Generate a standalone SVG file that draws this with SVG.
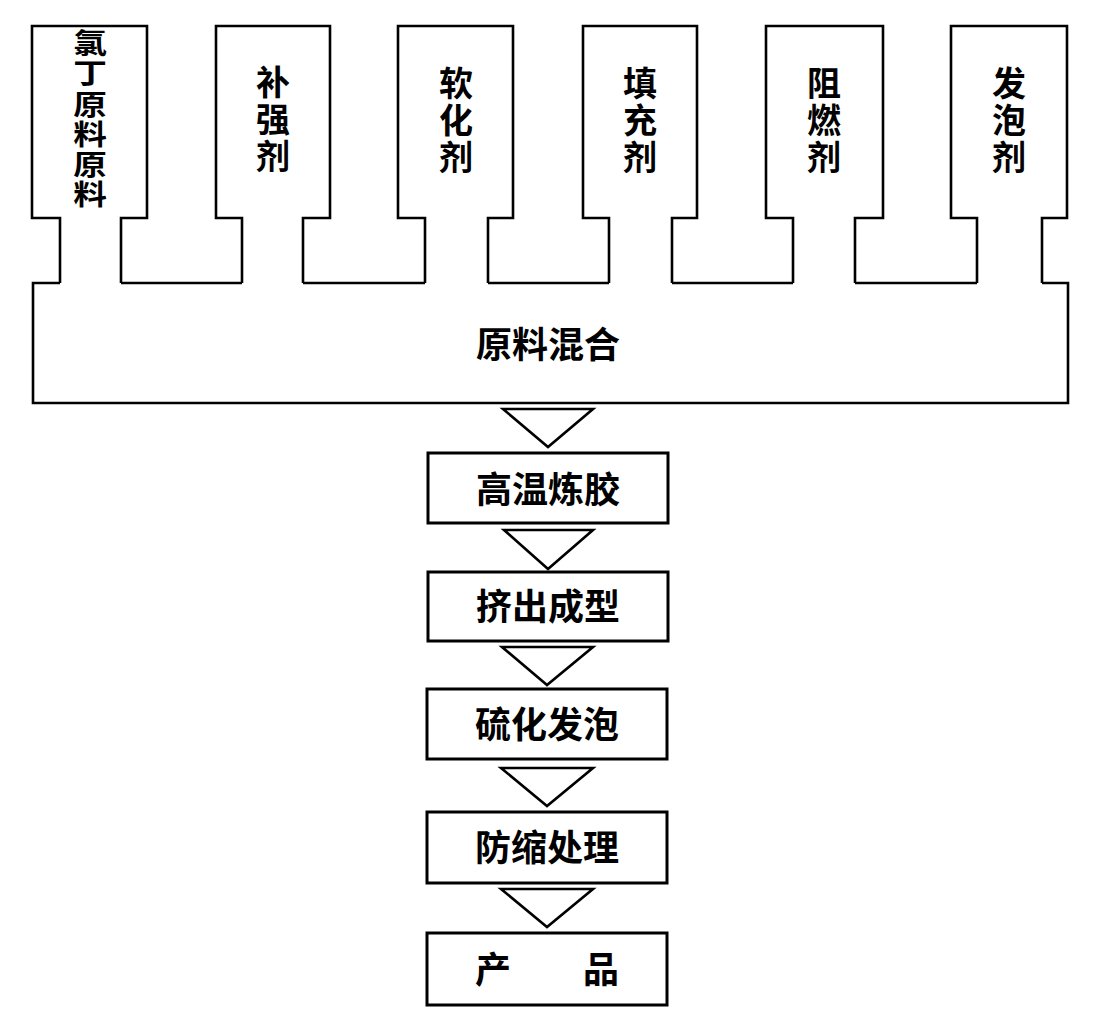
<svg xmlns="http://www.w3.org/2000/svg" width="1108" height="1022" viewBox="0 0 1108 1022">
<style>
.ln{fill:none;stroke:#000;stroke-width:2.6;stroke-linejoin:miter}
.bx{fill:#fff;stroke:#000;stroke-width:3}
.tri{fill:#fff;stroke:#000;stroke-width:2.6;stroke-linejoin:miter}
.t{font-family:"Noto Sans CJK SC","Noto Sans CJK JP",sans-serif;font-weight:700;fill:#000;text-anchor:middle}
.v{font-size:34px}
.v1{font-size:28px}
.h{font-size:36px}
</style>
<rect width="1108" height="1022" fill="#fff"/>
<g id="n-neoprene">
<path class="ln" d="M60,283 V218 H32 V26 H147 V218 H121 V283"/>
<text class="t v1" transform="translate(90,0) scale(1.2,1)"><tspan x="0" y="54">氯</tspan><tspan x="0" y="84">丁</tspan><tspan x="0" y="115">原</tspan><tspan x="0" y="145">料</tspan><tspan x="0" y="175">原</tspan><tspan x="0" y="205">料</tspan></text>
</g>
<g id="n-reinforce">
<path class="ln" d="M242,283 V218 H216 V26 H330 V218 H303 V283"/>
<text class="t v"><tspan x="273" y="95">补</tspan><tspan x="273" y="132">强</tspan><tspan x="273" y="169">剂</tspan></text>
</g>
<g id="n-soften">
<path class="ln" d="M425,283 V218 H398 V26 H513 V218 H488 V283"/>
<text class="t v"><tspan x="456" y="96">软</tspan><tspan x="456" y="133">化</tspan><tspan x="456" y="170">剂</tspan></text>
</g>
<g id="n-filler">
<path class="ln" d="M609,283 V218 H583 V26 H697 V218 H672 V283"/>
<text class="t v"><tspan x="640" y="96">填</tspan><tspan x="640" y="133">充</tspan><tspan x="640" y="170">剂</tspan></text>
</g>
<g id="n-retardant">
<path class="ln" d="M793,283 V218 H766 V26 H883 V218 H855 V283"/>
<text class="t v"><tspan x="824" y="96">阻</tspan><tspan x="824" y="133">燃</tspan><tspan x="824" y="170">剂</tspan></text>
</g>
<g id="n-foaming">
<path class="ln" d="M977,283 V218 H951 V26 H1067 V218 H1042 V283"/>
<text class="t v"><tspan x="1009" y="96">发</tspan><tspan x="1009" y="133">泡</tspan><tspan x="1009" y="170">剂</tspan></text>
</g>
<g id="n-mix">
<path class="ln" d="M1042,283 H1068 V403 H33 V283 H60 M121,283 H242 M303,283 H425 M488,283 H609 M672,283 H793 M855,283 H977"/>
<text class="t h" x="548" y="358">原料混合</text>
</g>
<g id="n-mill">
<rect class="bx" x="428" y="453" width="240" height="70"/>
<text class="t h" x="548" y="503">高温炼胶</text>
</g>
<g id="n-extrude">
<rect class="bx" x="428" y="572" width="240" height="69"/>
<text class="t h" x="548" y="620">挤出成型</text>
</g>
<g id="n-vulcanize">
<rect class="bx" x="427" y="689" width="240" height="70"/>
<text class="t h" x="547" y="738">硫化发泡</text>
</g>
<g id="n-shrink">
<rect class="bx" x="427" y="812" width="240" height="71"/>
<text class="t h" x="547" y="861">防缩处理</text>
</g>
<g id="n-product">
<rect class="bx" x="427" y="933" width="240" height="72"/>
<text class="t h" x="547" y="983">产　　品</text>
</g>
<g id="connectors">
<polygon class="tri" points="503,409 593,409 548,447"/>
<polygon class="tri" points="504,530 593,530 548,569"/>
<polygon class="tri" points="502,647 593,647 547,685"/>
<polygon class="tri" points="501,768 593,768 547,806"/>
<polygon class="tri" points="501,889 593,889 547,927"/>
</g>
</svg>
